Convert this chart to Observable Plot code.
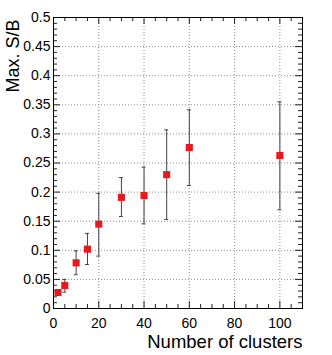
<!DOCTYPE html>
<html>
<head>
<meta charset="utf-8">
<script src="https://cdn.jsdelivr.net/npm/d3@7"></script>
<script src="https://cdn.jsdelivr.net/npm/@observablehq/plot@0.6"></script>
<style>
  html, body { margin: 0; padding: 0; background: #fff; }
  #chart svg { display: block; }
</style>
</head>
<body>
<div id="chart"></div>
<script>
// Data
const clusters = [2, 5, 10, 15, 20, 30, 40, 50, 60, 100];
const maxSB    = [0.0275, 0.0395, 0.0785, 0.102, 0.145, 0.191, 0.194, 0.230, 0.2766, 0.263];
const errLow   = [0.0275, 0.028, 0.058, 0.0756, 0.090, 0.158, 0.1455, 0.153, 0.2113, 0.1696];
const errHigh  = [0.0275, 0.050, 0.099, 0.129, 0.198, 0.225, 0.243, 0.307, 0.3414, 0.355];

const xTickLabels = [0, 20, 40, 60, 80, 100];
const xMinor = [5,10,15,25,30,35,45,50,55,65,70,75,85,90,95,105];
const yTickLabels = [0, 0.05, 0.1, 0.15, 0.2, 0.25, 0.3, 0.35, 0.4, 0.45, 0.5];
const yMinor = d3.range(0, 51).filter(i => i % 5 !== 0).map(i => i / 100);

const data = clusters.map((c, i) => ({x: c, y: maxSB[i], lo: errLow[i], hi: errHigh[i]}));
const bars = data.filter(d => d.hi > d.lo);

const W = 332, H = 355;
const mL = 53, mR = 30, mT = 17, mB = 47;
const pw = W - mL - mR, ph = H - mT - mB;
const font = "'Liberation Sans', Arial, Helvetica, sans-serif";
const majorLen = 7, minorLen = 4;

const chart = Plot.plot({
  width: W,
  height: H,
  marginLeft: mL,
  marginRight: mR,
  marginTop: mT,
  marginBottom: mB,
  style: {fontFamily: font, background: "#fff", color: "#000"},
  x: {domain: [0, 110], axis: null},
  y: {domain: [0, 0.5], axis: null},
  marks: [
    // dotted grid
    Plot.ruleX(xTickLabels.filter(d => d > 0), {stroke: "#8c8c8c", strokeDasharray: "1,2", strokeWidth: 1}),
    Plot.ruleY(yTickLabels.filter(d => d > 0 && d < 0.5), {stroke: "#8c8c8c", strokeDasharray: "1,2", strokeWidth: 1}),
    // ticks: bottom / top
    Plot.tickX(xTickLabels, {x: d => d, insetTop: ph - majorLen, stroke: "#222"}),
    Plot.tickX(xMinor, {x: d => d, insetTop: ph - minorLen, stroke: "#222"}),
    Plot.tickX(xTickLabels, {x: d => d, insetBottom: ph - majorLen, stroke: "#222"}),
    Plot.tickX(xMinor, {x: d => d, insetBottom: ph - minorLen, stroke: "#222"}),
    // ticks: left / right
    Plot.tickY(yTickLabels, {y: d => d, insetRight: pw - majorLen, stroke: "#222"}),
    Plot.tickY(yMinor, {y: d => d, insetRight: pw - minorLen, stroke: "#222"}),
    Plot.tickY(yTickLabels, {y: d => d, insetLeft: pw - majorLen, stroke: "#222"}),
    Plot.tickY(yMinor, {y: d => d, insetLeft: pw - minorLen, stroke: "#222"}),
    // frame
    Plot.frame({stroke: "#000", strokeWidth: 1}),
    // tick labels
    Plot.axisX({ticks: xTickLabels, tickSize: 0, tickPadding: 10, fontSize: 14, label: null, tickFormat: d => String(d)}),
    Plot.axisY({ticks: yTickLabels, tickSize: 0, tickPadding: 3, fontSize: 14, label: null, tickFormat: d => String(d)}),
    // error bars
    Plot.ruleX(bars, {x: "x", y1: "lo", y2: "hi", stroke: "#444", strokeWidth: 1}),
    Plot.ruleY(bars, {y: "lo", x1: "x", x2: "x", insetLeft: -2, insetRight: -2, stroke: "#444"}),
    Plot.ruleY(bars, {y: "hi", x1: "x", x2: "x", insetLeft: -2, insetRight: -2, stroke: "#444"}),
    // markers
    Plot.dot(data, {x: "x", y: "y", symbol: "square", r: 4, fill: "#e8191e", stroke: "none"}),
    // axis titles
    Plot.text(["Number of clusters"], {frameAnchor: "bottom-right", textAnchor: "end", dy: 39, fontSize: 18.5, fill: "#000"}),
    Plot.text(["Max. S/B"], {frameAnchor: "top-left", rotate: -90, textAnchor: "end", dx: -47, dy: 2, fontSize: 18, fill: "#000"})
  ]
});
document.getElementById("chart").appendChild(chart);
</script>
</body>
</html>
